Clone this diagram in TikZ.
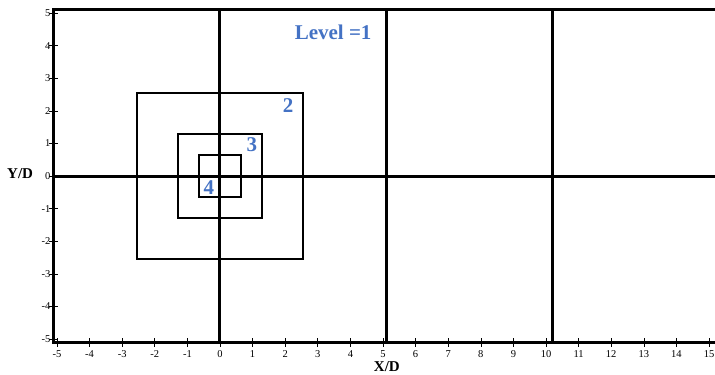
\documentclass[tikz,border=0pt]{standalone}
\usepackage{fontspec}
\setmainfont{Liberation Serif}
\definecolor{lblue}{HTML}{4472C4}
\tikzset{
  frame/.style={line width=3pt},
  grid/.style={line width=3pt},
  sq/.style={line width=2pt},
  tick/.style={line width=0.6pt},
  ticklab/.style={font=\fontsize{10.5}{11}\selectfont, inner sep=0pt},
  lvl/.style={text=lblue, font=\fontsize{21}{22}\selectfont\bfseries, inner sep=0pt},
  axlab/.style={font=\fontsize{15}{16}\selectfont\bfseries, inner sep=0pt}
}
\begin{document}
\begin{tikzpicture}[x=32.6pt,y=32.6pt]
\useasboundingbox (-6.748,-6.074) rectangle (15.184,5.399);
\clip (-6.748,-6.074) rectangle (15.184,5.399);
% grid coordinates
\coordinate (bl) at (-5.1,-5.1);
\coordinate (tl) at (-5.1,5.1);
\coordinate (br) at (15.6,-5.1);
\coordinate (tr) at (15.6,5.1);
\coordinate (ml) at (-5.1,0);
\coordinate (mr) at (15.6,0);
\coordinate (v0b) at (0,-5.1);
\coordinate (v0t) at (0,5.1);
\coordinate (v1b) at (5.1,-5.1);
\coordinate (v1t) at (5.1,5.1);
\coordinate (v2b) at (10.2,-5.1);
\coordinate (v2t) at (10.2,5.1);
% ticks
\foreach \i in {-5,...,15} {
  \draw[tick] (\i,-5.24) -- (\i,-4.96);
  \node[ticklab] (xl\i) at (\i,-5.47) {\i};
}
\foreach \j in {-5,...,5} {
  \draw[tick] (-5.24,\j) -- (-4.96,\j);
  \node[ticklab, anchor=east] (yl\j) at (-5.2,\j) {\j};
}
% frame and grid
\draw[grid] (ml) -- (mr);
\draw[grid] (v0b) -- (v0t);
\draw[grid] (v1b) -- (v1t);
\draw[grid] (v2b) -- (v2t);
\draw[frame] (br) -- (bl) -- (tl) -- (tr);
% nested squares
\draw[sq] (-2.55,-2.55) rectangle (2.55,2.55);
\draw[sq] (-1.275,-1.275) rectangle (1.275,1.275);
\draw[sq] (-0.6375,-0.6375) rectangle (0.6375,0.6375);
% labels
\node[lvl] (L1) at (3.47,4.42) {Level =1};
\node[lvl] (L2) at (2.09,2.15) {2};
\node[lvl] (L3) at (0.98,0.95) {3};
\node[lvl] (L4) at (-0.34,-0.34) {4};
\node[axlab] (YD) at (-6.13,0.06) {Y/D};
\node[axlab] (XD) at (5.12,-5.86) {X/D};
\end{tikzpicture}
\end{document}
